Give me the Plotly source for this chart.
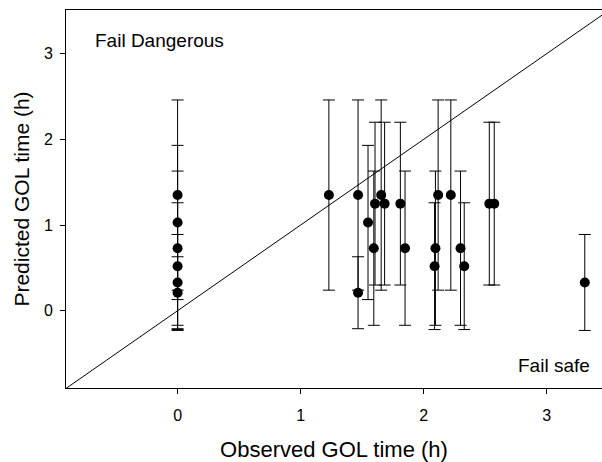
import plotly.graph_objects as go

observed = [0, 0, 0, 0, 0, 0,
            1.23, 1.467, 1.467, 1.548, 1.595, 1.605, 1.655, 1.683,
            1.811, 1.849, 2.089, 2.096, 2.118, 2.221, 2.30, 2.33,
            2.534, 2.574, 3.31]
predicted = [1.35, 1.03, 0.73, 0.52, 0.33, 0.21,
             1.35, 1.35, 0.21, 1.03, 0.73, 1.25, 1.35, 1.25,
             1.25, 0.73, 0.52, 0.73, 1.35, 1.35, 0.73, 0.52,
             1.25, 1.25, 0.33]
error = [1.11, 0.90, 0.90, 0.74, 0.56, 0.42,
         1.11, 1.11, 0.42, 0.90, 0.90, 0.95, 1.11, 0.95,
         0.95, 0.90, 0.74, 0.90, 1.11, 1.11, 0.90, 0.74,
         0.95, 0.95, 0.56]
line_x = [-0.91, 3.52]
line_y = [-0.91, 3.52]
x_ticks = [0, 1, 2, 3]
y_ticks = [0, 1, 2, 3]

fig = go.Figure()
fig.add_trace(go.Scatter(x=line_x, y=line_y, mode="lines",
                         line=dict(color="black", width=1), showlegend=False,
                         hoverinfo="skip"))
fig.add_trace(go.Scatter(
    x=observed, y=predicted, mode="markers",
    marker=dict(color="black", size=10),
    error_y=dict(type="data", array=error, visible=True, color="black",
                 thickness=1, width=6),
    showlegend=False))

font = "Liberation Sans, Arial, sans-serif"
fig.add_annotation(x=-0.69, y=3.15, text="Fail Dangerous", showarrow=False,
                   xanchor="left", yanchor="middle",
                   font=dict(family=font, size=19, color="black"))
fig.add_annotation(x=3.37, y=-0.64, text="Fail safe", showarrow=False,
                   xanchor="right", yanchor="middle",
                   font=dict(family=font, size=19, color="black"))

fig.update_layout(
    width=602, height=462,
    margin=dict(l=66, r=0, t=10, b=74),
    plot_bgcolor="white", paper_bgcolor="white",
    font=dict(family=font, color="black"),
    xaxis=dict(range=[-0.907, 3.45], tickvals=x_ticks, ticks="outside",
               ticklen=5, tickcolor="black", showline=True, linecolor="black",
               linewidth=1, mirror=True, showgrid=False, zeroline=False,
               tickfont=dict(size=16), ticklabelstandoff=8,
               title=dict(text="Observed GOL time (h)", font=dict(size=22),
                          standoff=20)),
    yaxis=dict(range=[-0.902, 3.51], tickvals=y_ticks, ticks="outside",
               ticklen=5, tickcolor="black", showline=True, linecolor="black",
               linewidth=1, mirror=True, showgrid=False, zeroline=False,
               tickfont=dict(size=16), ticklabelstandoff=4,
               title=dict(text="Predicted GOL time (h)", font=dict(size=21),
                          standoff=8)),
)

fig.write_html("out.html")
